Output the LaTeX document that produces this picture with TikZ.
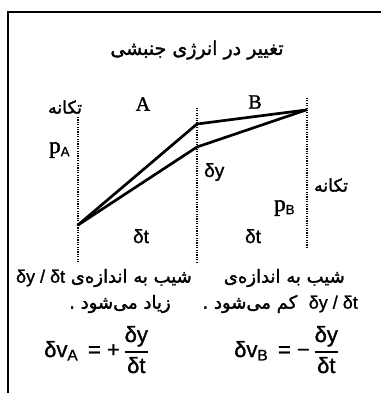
\documentclass[tikz,border=0pt]{standalone}
\usepackage{fontspec}
\usepackage{amsmath}
\setmainfont{Liberation Sans}[FakeBold=1.2]
\newfontfamily\serifA{Liberation Serif}[FakeBold=1.6]
\newfontfamily\fa[Script=Arabic,FakeBold=1.6]{DejaVu Sans}
\TeXXeTstate=1
\newcommand{\latintxt}{\normalfont\fontsize{18}{20}\selectfont}
\newcommand{\dfracs}[2]{\genfrac{}{}{1.5pt}{0}{\text{#1}}{\text{#2}}}
\begin{document}
\begin{tikzpicture}[x=1pt,y=-1pt]
\useasboundingbox (0,0) rectangle (381,393);
\tikzset{
  frame/.style={line width=2.8pt},
  guide/.style={line width=2pt, dash pattern=on 1.1pt off 1.3pt},
  curve/.style={line width=2.7pt, line join=round, line cap=round},
  lbl/.style={inner sep=0pt, font=\fontsize{19}{21}\selectfont},
  fml/.style={inner sep=0pt, font=\fontsize{22}{24}\selectfont},
  fatxt/.style={inner sep=0pt, font=\fontsize{18}{20}\selectfont\fa},
  falbl/.style={inner sep=0pt, font=\fontsize{17.5}{20}\selectfont\fa},
  fatitle/.style={inner sep=0pt, font=\fontsize{19}{22}\selectfont\fa},
}
% frame
\coordinate (FB) at (8,393);
\coordinate (FC) at (8,12);
\coordinate (FR) at (381,12);
\draw[frame] (FB) -- (FC) -- (FR);
% guide lines
\coordinate (LT) at (78,117);  \coordinate (LB) at (78,262);
\coordinate (MT) at (197,108); \coordinate (MB) at (197,262);
\coordinate (RT) at (307,98);  \coordinate (RB) at (307,248);
\draw[guide] (LT) -- (LB);
\draw[guide] (MT) -- (MB);
\draw[guide] (RT) -- (RB);
% curves
\coordinate (P0) at (78,225);
\coordinate (PU) at (197,124);
\coordinate (PL) at (197,147);
\coordinate (P1) at (306,110);
\draw[curve] (P0) -- (PU) -- (P1);
\draw[curve] (P0) -- (PL) -- (P1);
% title
\node[fatitle] (title) at (197,50) {\beginR تغییر در انرژی جنبشی\endR};
% labels
\node[falbl] (momL) at (65,107) {\beginR تکانه\endR};
\node[falbl] (momR) at (331,185) {\beginR تکانه\endR};
\node[lbl, font=\fontsize{20}{22}\selectfont\serifA] (A) at (143,104) {A};
\node[lbl, font=\fontsize{20}{22}\selectfont\serifA] (B) at (255,102) {B};
\node[lbl, anchor=base west] (pA) at (49,153) {{\fontsize{23}{25}\selectfont\serifA p}\textsubscript{A}};
\node[lbl, anchor=base west] (pB) at (274,211) {{\fontsize{23}{25}\selectfont\serifA p}\textsubscript{B}};
\node[lbl, anchor=base west] (dy) at (204,177) {δy};
\node[lbl, anchor=base] (dtL) at (141,243) {δt};
\node[lbl, anchor=base] (dtR) at (253,243) {δt};
% text rows
\node[fatxt, anchor=east] (r1l) at (192,278) {\beginR شیب به اندازه‌ی {\latintxt\beginL δy / δt\endL}\endR};
\node[fatxt, anchor=east] (r1r) at (345,278) {\beginR شیب به اندازه‌ی\endR};
\node[fatxt] (r2l) at (120,304) {\beginR زیاد می‌شود .\endR};
\node[fatxt, anchor=east] (r2r) at (358,304) {\beginR {\latintxt\beginL δy / δt\endL}\ \ کم می‌شود .\endR};
% formulas
\node[fml, anchor=base west] (fA) at (44,357) {δv\textsubscript{A}\, = +\,$\dfracs{δy}{δt}$};
\node[fml, anchor=base west] (fB) at (234,357) {δv\textsubscript{B}\, = −\,$\dfracs{δy}{δt}$};
\end{tikzpicture}
\end{document}
